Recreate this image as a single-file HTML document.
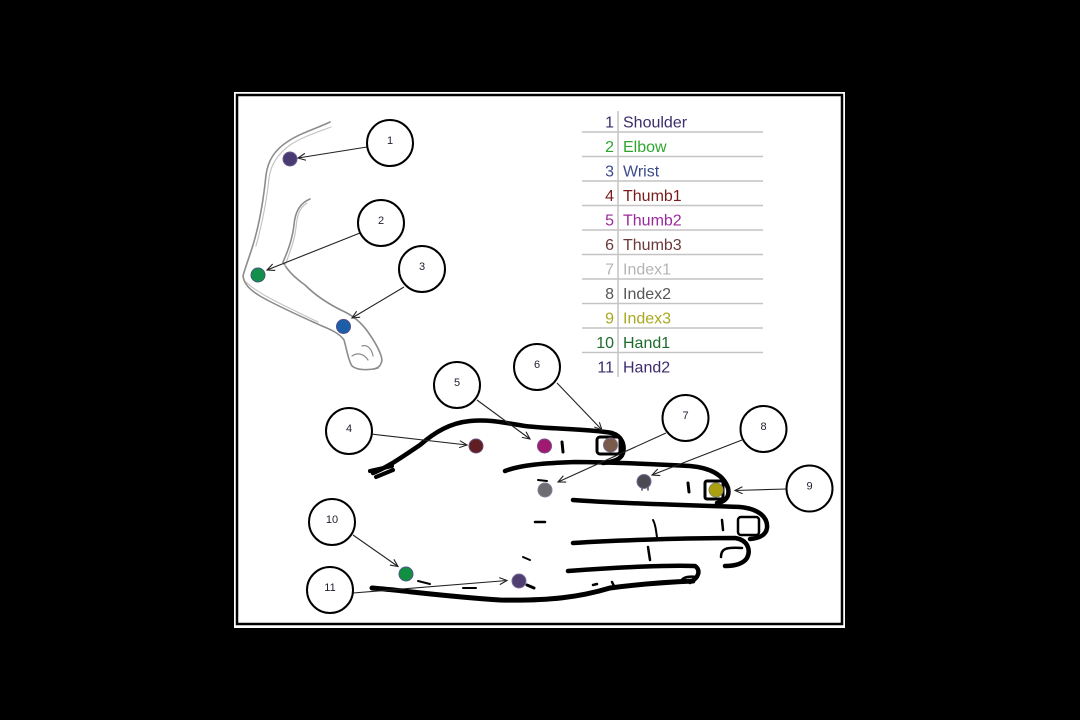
<!DOCTYPE html>
<html><head><meta charset="utf-8"><style>
html,body{margin:0;padding:0;background:#000;}
svg{display:block;}
text{font-family:"Liberation Sans",sans-serif;}
</style></head><body>
<svg width="1080" height="720" viewBox="0 0 1080 720" xmlns="http://www.w3.org/2000/svg">
<defs>
<marker id="ah" markerUnits="userSpaceOnUse" markerWidth="10" markerHeight="10" refX="8" refY="4" orient="auto">
<path d="M0.5,0.5 L8,4 L0.5,7.5" fill="none" stroke="#222" stroke-width="1.1"/>
</marker>
</defs>
<rect x="0" y="0" width="1080" height="720" fill="#000"/>
<rect x="234" y="92" width="611" height="536" fill="#fff"/>
<rect x="237" y="95" width="605" height="529" fill="#fff" stroke="#000" stroke-width="2.5"/>

<!-- table -->
<g stroke="#c4c4c4" stroke-width="1.5">
<line x1="582" y1="132" x2="763" y2="132"/>
<line x1="582" y1="156.5" x2="763" y2="156.5"/>
<line x1="582" y1="181" x2="763" y2="181"/>
<line x1="582" y1="205.5" x2="763" y2="205.5"/>
<line x1="582" y1="230" x2="763" y2="230"/>
<line x1="582" y1="254.5" x2="763" y2="254.5"/>
<line x1="582" y1="279" x2="763" y2="279"/>
<line x1="582" y1="303.5" x2="763" y2="303.5"/>
<line x1="582" y1="328" x2="763" y2="328"/>
<line x1="582" y1="352.5" x2="763" y2="352.5"/>
<line x1="618" y1="111" x2="618" y2="377"/>
</g>
<g font-size="16">
<text x="614" y="127.5" text-anchor="end" fill="#3d2d6a">1</text><text x="623" y="127.5" fill="#3d2d6a">Shoulder</text>
<text x="614" y="152" text-anchor="end" fill="#2ea62e">2</text><text x="623" y="152" fill="#2ea62e">Elbow</text>
<text x="614" y="176.5" text-anchor="end" fill="#3c4a8c">3</text><text x="623" y="176.5" fill="#3c4a8c">Wrist</text>
<text x="614" y="201" text-anchor="end" fill="#7a1c1c">4</text><text x="623" y="201" fill="#7a1c1c">Thumb1</text>
<text x="614" y="225.5" text-anchor="end" fill="#9a2a9c">5</text><text x="623" y="225.5" fill="#9a2a9c">Thumb2</text>
<text x="614" y="250" text-anchor="end" fill="#6a3a3a">6</text><text x="623" y="250" fill="#6a3a3a">Thumb3</text>
<text x="614" y="274.5" text-anchor="end" fill="#b4b4b4">7</text><text x="623" y="274.5" fill="#b4b4b4">Index1</text>
<text x="614" y="299" text-anchor="end" fill="#555">8</text><text x="623" y="299" fill="#555">Index2</text>
<text x="614" y="323.5" text-anchor="end" fill="#a8a820">9</text><text x="623" y="323.5" fill="#a8a820">Index3</text>
<text x="614" y="348" text-anchor="end" fill="#1e6a2c">10</text><text x="623" y="348" fill="#1e6a2c">Hand1</text>
<text x="614" y="372.5" text-anchor="end" fill="#3c2c6c">11</text><text x="623" y="372.5" fill="#3c2c6c">Hand2</text>
</g>

<!-- arm sketch -->
<g fill="none" stroke="#8c8c8c" stroke-width="1.6" stroke-linecap="round">
<path d="M330,122 C318,128 300,133 287,142 C275,150 268,160 266,175 C264,195 260,222 253,245 C249,258 245,268 243,276 C244,284 250,290 260,296 C275,305 300,316 322,326 C332,330 340,334 344,340 C347,350 348,360 352,366 C358,371 370,370 378,368"/>
<path d="M310,199 C300,203 295,212 294,225 C292,242 286,255 283,262 C288,272 298,280 305,285 C315,295 330,305 345,312 C355,317 363,325 368,332 C375,342 381,352 382,360 C381,366 378,368 374,369"/>
<path d="M352,356 C358,352 364,354 368,360" stroke-width="1.2"/>
<path d="M362,346 C368,344 372,350 373,356" stroke-width="1.2"/>
</g>
<g fill="none" stroke="#c4c4c4" stroke-width="1.2" stroke-linecap="round">
<path d="M331,127 C318,132 302,137 290,145 C279,153 271,163 269,178 C267,198 262,224 256,246"/>
<path d="M307,203 C299,208 297,216 296,228 C294,244 288,256 285,266"/>
<path d="M246,282 C258,294 285,306 318,322"/>
</g>

<!-- hand drawing -->
<g fill="none" stroke="#000" stroke-linecap="round" stroke-linejoin="round">
<path d="M373,473 C390,466 405,455 420,445 C435,432 450,423 470,421 C490,419 505,423 525,426 C550,429 590,429 612,433 C622,436 625,445 623,453 C621,460 612,462 603,463" stroke-width="4.5"/>
<path d="M370,471 L392,466 M376,477 L393,470" stroke-width="4"/>
<path d="M505,471 C520,465 545,463 575,462 C610,462 650,464 690,466 C712,468 724,476 728,488 C730,497 725,502 717,503" stroke-width="4.5"/>
<path d="M573,500 C610,503 680,505 740,507 C760,509 768,518 767,528 C766,535 760,538 750,539" stroke-width="4.5"/>
<path d="M573,543 C620,540 690,538 735,538 C748,540 751,550 747,558 C743,564 735,566 725,566" stroke-width="4.5"/>
<path d="M568,571 C620,567 670,565 695,566 C701,570 699,578 690,582" stroke-width="4.5"/>
<path d="M372,588 C400,590 440,596 500,600 C550,601 580,597 610,588 C640,584 670,582 693,581" stroke-width="5"/>
<rect x="597" y="437" width="23" height="17" rx="3" stroke-width="3" fill="#fff"/>
<rect x="705" y="481" width="18" height="18" rx="2" stroke-width="3" fill="#fff"/>
<rect x="738" y="517" width="21" height="18" rx="3" stroke-width="2.5"/>
<path d="M721,557 C721,549 725,547 742,548" stroke-width="2.5"/>
<path d="M681,582 C682,577 688,576 697,577" stroke-width="2.5"/>
<path d="M562,442 L563,452" stroke-width="3"/>
<path d="M538,480 L547,481" stroke-width="2"/>
<path d="M688,483 L689,492" stroke-width="3"/>
<path d="M653,520 C656,525 656,532 657,537" stroke-width="2"/>
<path d="M722,520 L723,530" stroke-width="2.5"/>
<path d="M648,547 L650,560" stroke-width="2.5"/>
<path d="M593,585 L597,584 M612,582 L614,586" stroke-width="2.5"/>
<path d="M535,522 L545,522" stroke-width="2.5"/>
<path d="M523,557 L530,560" stroke-width="2"/>
<path d="M418,581 L430,584" stroke-width="2"/>
<path d="M463,588 L476,588" stroke-width="2"/>
<path d="M527,585 L534,588" stroke-width="3"/>
<path d="M642,485 L642,490 M648,485 L648,490" stroke-width="1.5" stroke="#4a4a52"/>
</g>

<!-- dots -->
<g stroke-width="1">
<circle cx="290" cy="159" r="7" fill="#4a3a72" stroke="#6a5a92"/>
<circle cx="258" cy="275" r="7" fill="#12904a" stroke="#3a5a7a"/>
<circle cx="343.5" cy="326.5" r="7" fill="#1d5ea8" stroke="#4a4a8a"/>
<circle cx="476" cy="446" r="7" fill="#5e1e22" stroke="#6a4a7a"/>
<circle cx="544.5" cy="446" r="7" fill="#a01a72" stroke="#7a4a8a"/>
<circle cx="610.5" cy="445" r="7" fill="#7a5a48" stroke="#7a6a8a"/>
<circle cx="545" cy="490" r="7" fill="#6e6e72" stroke="#8a7a9a"/>
<circle cx="644" cy="481.5" r="7" fill="#4a4a52" stroke="#7a6a9a"/>
<circle cx="716" cy="490" r="7" fill="#aaa010" stroke="#8a8a5a"/>
<circle cx="406" cy="574" r="7" fill="#109040" stroke="#4a5a8a"/>
<circle cx="519" cy="581" r="7" fill="#4e3e72" stroke="#7a6a9a"/>
</g>

<!-- arrows -->
<g stroke="#222" stroke-width="1.1" marker-end="url(#ah)">
<line x1="367" y1="147" x2="298" y2="158"/>
<line x1="360" y1="233" x2="267" y2="270"/>
<line x1="404" y1="287" x2="352" y2="318"/>
<line x1="371" y1="434" x2="467" y2="445"/>
<line x1="477" y1="400" x2="530" y2="439"/>
<line x1="557" y1="383" x2="602" y2="430"/>
<line x1="666" y1="433" x2="558" y2="482"/>
<line x1="742" y1="440" x2="652" y2="475"/>
<line x1="786" y1="489" x2="735" y2="490.5"/>
<line x1="353" y1="535" x2="398" y2="566.5"/>
<line x1="353" y1="593" x2="507" y2="580.5"/>
</g>

<!-- label circles -->
<g fill="#fff" stroke="#000" stroke-width="2">
<circle cx="390" cy="143" r="23"/>
<circle cx="381" cy="223" r="23"/>
<circle cx="422" cy="269" r="23"/>
<circle cx="349" cy="431" r="23"/>
<circle cx="457" cy="385" r="23"/>
<circle cx="537" cy="367" r="23"/>
<circle cx="685.5" cy="418" r="23"/>
<circle cx="763.5" cy="429" r="23"/>
<circle cx="809.5" cy="488.5" r="23"/>
<circle cx="332" cy="522" r="23"/>
<circle cx="330" cy="590" r="23"/>
</g>
<g font-size="11" fill="#1e1e2e" text-anchor="middle">
<text x="390" y="144">1</text>
<text x="381" y="224">2</text>
<text x="422" y="270">3</text>
<text x="349" y="432">4</text>
<text x="457" y="386">5</text>
<text x="537" y="368">6</text>
<text x="685.5" y="419">7</text>
<text x="763.5" y="430">8</text>
<text x="809.5" y="489.5">9</text>
<text x="332" y="523">10</text>
<text x="330" y="591">11</text>
</g>
</svg>
</body></html>
